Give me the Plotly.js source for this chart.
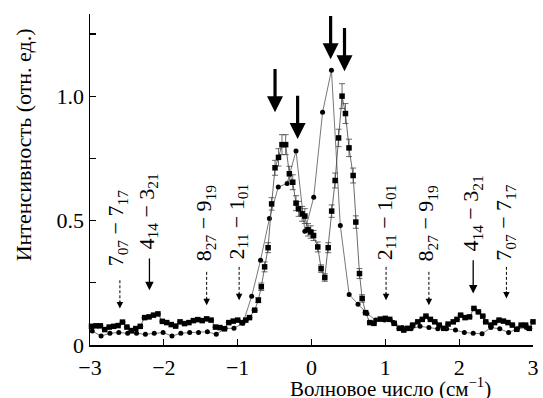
<!DOCTYPE html>
<html><head><meta charset="utf-8">
<script src="https://cdn.plot.ly/plotly-3.0.1.min.js"></script>
<style>html,body{margin:0;padding:0;background:#fff}</style>
</head><body>
<div id="chart" style="width:543px;height:398px"></div>
<script>
// Squares (with error bars)
const sqX = [-2.98,-2.92,-2.86,-2.80,-2.74,-2.68,-2.62,-2.56,-2.50,-2.44,
 -2.38,-2.32,-2.26,-2.20,-2.14,-2.08,-2.02,-1.96,-1.90,-1.84,
 -1.78,-1.72,-1.66,-1.60,-1.54,-1.48,-1.42,-1.36,-1.30,-1.24,
 -1.18,-1.12,-1.06,-1.00,-0.94,-0.89,-0.84,-0.77,
 -0.72,-0.68,-0.635,-0.588,-0.54,-0.494,-0.447,-0.40,-0.35,-0.30,
 -0.254,-0.21,-0.174,-0.127,-0.09,-0.047,-0.01,0.028,0.085,0.13,
 0.18,0.226,0.273,0.32,0.367,0.414,0.46,0.508,0.564,0.60,
 0.65,0.686,
 0.733,0.79,0.846,0.93,1.0,1.06,1.12,1.19,1.25,1.30,
 1.37,1.44,1.50,1.55,1.61,1.67,1.73,1.79,1.85,1.92,
 1.97,2.02,2.08,2.14,2.20,2.26,2.32,2.36,2.43,2.48,
 2.54,2.60,2.66,2.72,2.78,2.84,2.90,2.95,3.0];
const sqY = [0.075,0.077,0.077,0.062,0.072,0.075,0.078,0.092,0.072,0.058,
 0.066,0.075,0.110,0.113,0.120,0.125,0.095,0.090,0.082,0.076,
 0.093,0.086,0.090,0.098,0.102,0.098,0.105,0.100,0.072,0.070,
 0.065,0.090,0.096,0.100,0.090,0.100,0.110,0.140,
 0.180,0.234,0.314,0.391,0.567,0.712,0.754,0.805,0.805,0.688,
 0.654,0.570,0.547,0.527,0.518,0.463,0.454,0.440,0.394,0.307,
 0.271,0.391,0.538,0.661,0.832,1.000,0.930,0.792,0.681,0.494,
 0.287,0.187,
 0.130,0.090,0.087,0.104,0.107,0.103,0.087,0.067,0.060,0.067,
 0.080,0.093,0.103,0.116,0.103,0.093,0.080,0.067,0.084,0.093,
 0.103,0.120,0.110,0.113,0.147,0.133,0.116,0.093,0.080,0.090,
 0.100,0.096,0.090,0.080,0.063,0.080,0.080,0.067,0.093];
const sqErr = [0,0,0,0,0,0,0,0,0,0,
 0,0,0,0,0,0,0,0,0,0,
 0,0,0,0,0,0,0,0,0,0,
 0,0,0,0,0,0,0,0,
 0.01,0.015,0.02,0.02,0.025,0.03,0.035,0.04,0.04,0.03,
 0.03,0.03,0.03,0.03,0.03,0.025,0.025,0.02,0.02,0.015,
 0.015,0.02,0.025,0.03,0.035,0.05,0.04,0.035,0.03,0.025,
 0.02,0.015,
 0,0,0,0,0,0,0,0,0,0,
 0,0,0,0,0,0,0,0,0,0,
 0,0,0,0,0,0,0,0,0,0,
 0,0,0,0,0,0,0,0,0];
// Circles
const ciX = [-2.97,-2.85,-2.73,-2.61,-2.49,-2.37,-2.25,-2.13,-2.01,-1.89,
 -1.77,-1.65,-1.53,-1.41,-1.29,-1.17,-1.05,-0.93,-0.81,-0.69,
 -0.57,-0.45,-0.33,-0.21,-0.09,0.03,0.15,0.27,0.39,0.51,
 0.63,0.75,0.87,0.99,1.11,1.23,1.35,1.47,1.59,1.71,
 1.83,1.95,2.07,2.19,2.31,2.43,2.55,2.67,2.79,2.91];
const ciY = [0.056,0.036,0.047,0.050,0.047,0.047,0.043,0.047,0.050,0.036,
 0.047,0.050,0.050,0.053,0.043,0.067,0.067,0.087,0.196,0.341,
 0.508,0.635,0.649,0.780,0.457,0.594,0.935,1.104,0.480,0.203,
 0.164,0.127,0.100,0.100,0.090,0.070,0.065,0.075,0.070,0.065,
 0.065,0.060,0.050,0.047,0.045,0.070,0.065,0.050,0.065,0.070];

// Transition labels
const lblText = ['7<sub>07</sub> − 7<sub>17</sub>','4<sub>14</sub> − 3<sub>21</sub>','8<sub>27</sub> − 9<sub>19</sub>','2<sub>11</sub> − 1<sub>01</sub>',
 '2<sub>11</sub> − 1<sub>01</sub>','8<sub>27</sub> − 9<sub>19</sub>','4<sub>14</sub> − 3<sub>21</sub>','7<sub>07</sub> − 7<sub>17</sub>'];
const lblX = [-2.63,-2.22,-1.44,-1.0,1.0,1.57,2.18,2.62];
const lblY = [0.47,0.535,0.49,0.495,0.495,0.49,0.53,0.495];
const arrX = [-2.595,-2.195,-1.42,-0.98,1.01,1.59,2.19,2.64];
const arrTop = [0.26,0.354,0.294,0.314,0.314,0.294,0.347,0.314];
const arrTip = [0.147,0.22,0.16,0.18,0.18,0.16,0.207,0.187];
const arrDashed = [true,false,true,true,true,true,false,true];
// Peak arrows
const pkX = [-0.494,-0.188,0.259,0.447];
const pkTip = [0.935,0.828,1.148,1.10];
const pkTop = [1.115,1.008,1.328,1.28];

const FONT = 'Liberation Serif';
const annotations = [];
const shapes = [];
for (let i=0;i<lblText.length;i++){
  annotations.push({x:lblX[i],y:lblY[i],xref:'x',yref:'y',text:lblText[i],showarrow:false,textangle:-90,
    font:{family:FONT,size:22,color:'#000'},xanchor:'center',yanchor:'middle'});
  if (arrDashed[i]){
    shapes.push({type:'line',xref:'x',yref:'y',x0:arrX[i],x1:arrX[i],y0:arrTop[i],y1:arrTip[i]+0.02,
      line:{color:'#000',width:1,dash:'3px,2px'}});
    annotations.push({x:arrX[i],y:arrTip[i],ax:arrX[i],ay:arrTip[i]+0.035,axref:'x',ayref:'y',xref:'x',yref:'y',
      text:'',showarrow:true,arrowhead:2,arrowsize:1.3,arrowwidth:1,arrowcolor:'#000'});
  } else {
    annotations.push({x:arrX[i],y:arrTip[i],ax:arrX[i],ay:arrTop[i],axref:'x',ayref:'y',xref:'x',yref:'y',
      text:'',showarrow:true,arrowhead:2,arrowsize:1.3,arrowwidth:1.3,arrowcolor:'#000'});
  }
}
for (let i=0;i<pkX.length;i++){
  annotations.push({x:pkX[i],y:pkTip[i],ax:pkX[i],ay:pkTop[i],axref:'x',ayref:'y',xref:'x',yref:'y',
    text:'',showarrow:true,arrowhead:2,arrowsize:1,arrowwidth:3.2,arrowcolor:'#000'});
}
annotations.push({xref:'paper',yref:'paper',x:-0.15,y:0.605,text:'Интенсивность (отн. ед.)',showarrow:false,
  textangle:-90,font:{family:FONT,size:22,color:'#000'},xanchor:'center',yanchor:'middle'});
annotations.push({xref:'paper',yref:'paper',x:0.679,y:-0.128,text:'Волновое число (см<sup>−1</sup>)',showarrow:false,
  font:{family:FONT,size:21,color:'#000'},xanchor:'center',yanchor:'middle'});

const traces = [
  {x:ciX,y:ciY,type:'scatter',mode:'lines+markers',name:'circles',
   line:{color:'#555',width:0.8},marker:{symbol:'circle',size:5,color:'#000'},cliponaxis:false},
  {x:sqX,y:sqY,type:'scatter',mode:'lines+markers',name:'squares',
   line:{color:'#444',width:0.8},marker:{symbol:'square',size:5.5,color:'#000'},
   error_y:{type:'data',array:sqErr,visible:true,color:'#444',thickness:0.8,width:3},cliponaxis:false}
];
const layout = {
  width:543,height:398,showlegend:false,
  margin:{l:90,r:10,t:14,b:53,pad:0},
  paper_bgcolor:'#fff',plot_bgcolor:'#fff',
  font:{family:FONT,size:22,color:'#000'},
  xaxis:{range:[-3,3],showline:true,linecolor:'#000',linewidth:1.5,ticks:'inside',ticklen:6,tickwidth:1.2,
    tickcolor:'#000',showgrid:false,zeroline:false,tickvals:[-3,-2,-1,0,1,2,3],ticklabelstandoff:2,
    ticktext:['−3','−2','−1','0','1','2','3'],tickfont:{family:FONT,size:22,color:'#000'}},
  yaxis:{range:[0,1.33],showline:true,linecolor:'#000',linewidth:1.5,ticks:'inside',ticklen:6,tickwidth:1.2,
    tickcolor:'#000',showgrid:false,zeroline:false,tickvals:[0,0.25,0.5,0.75,1.0,1.25],
    ticktext:['0','','0.5','','1.0',''],tickfont:{family:FONT,size:22,color:'#000'}},
  annotations:annotations,shapes:shapes
};
Plotly.newPlot('chart',traces,layout,{displayModeBar:false,staticPlot:true});
</script>
</body></html>
